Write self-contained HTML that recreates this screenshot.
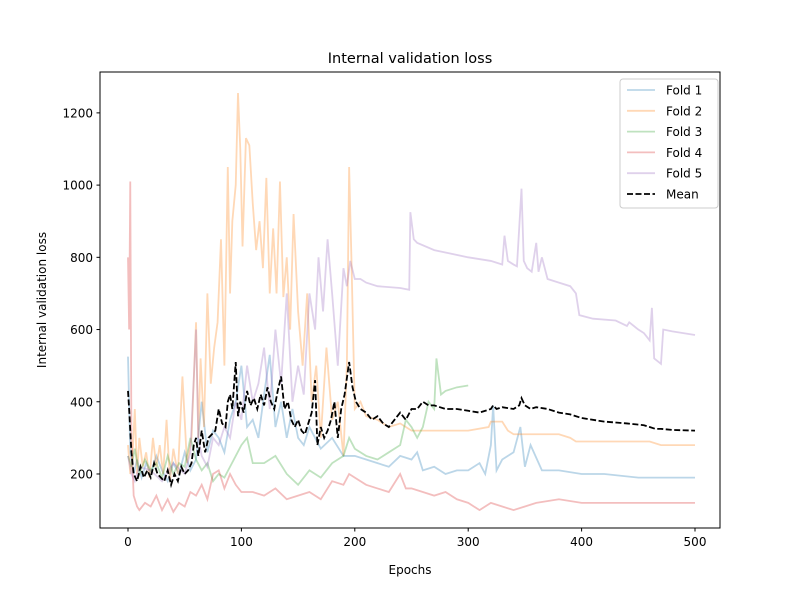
<!DOCTYPE html>
<html><head><meta charset="utf-8"><style>
body{margin:0;background:#fff;font-family:"Liberation Sans","DejaVu Sans",sans-serif;}
svg text{font-family:"DejaVu Sans","Liberation Sans",sans-serif;fill:#000;}
</style></head><body>
<svg id="chart" width="800" height="600" xmlns="http://www.w3.org/2000/svg">
<rect width="800" height="600" fill="#fff"/>
<text x="410" y="63" font-size="14.5" text-anchor="middle">Internal validation loss</text>
<g id="plot"></g>
<g id="axes"></g>
<rect x="100" y="72" width="620" height="456" fill="none" stroke="#000" stroke-width="1"/>
<text x="410" y="574" font-size="12" text-anchor="middle">Epochs</text>
<text transform="translate(46,300) rotate(-90)" font-size="12" text-anchor="middle">Internal validation loss</text>
<g id="legend"></g>
</svg>
<script>
const xTicks=[0,100,200,300,400,500];
const yTicks=[200,400,600,800,1000,1200];
const seriesNames=["Fold 1","Fold 2","Fold 3","Fold 4","Fold 5","Mean"];
const f1x=[0,2,5,8,12,16,20,25,30,35,40,45,50,55,60,65,70,75,80,85,90,95,100,105,110,115,120,125,130,135,140,145,150,155,160,170,180,190,200,210,220,230,240,250,255,260,270,280,290,300,310,315,320,322,325,330,340,346,350,355,365,380,400,420,450,480,500];
const f1y=[525,260,200,240,190,230,200,250,210,180,230,200,260,210,240,400,260,320,300,260,350,400,500,330,350,300,420,530,330,400,300,380,300,280,330,270,300,250,250,240,230,220,250,240,260,210,220,200,210,210,230,200,280,390,210,240,260,330,220,280,210,210,200,200,190,190,190];
const f2x=[0,2,4,6,8,10,13,16,19,22,25,28,31,34,37,40,44,48,52,56,60,62,64,67,70,73,76,79,82,85,88,90,92,95,97,99,101,104,107,110,113,116,119,122,125,128,131,134,137,140,143,146,150,154,158,162,166,170,175,180,185,190,193,195,197,200,205,210,220,230,240,250,260,280,300,318,320,330,335,340,360,380,390,395,420,440,450,460,470,480,500];
const f2y=[280,200,250,380,200,300,220,260,190,300,220,280,200,350,180,270,200,470,230,300,620,300,520,330,700,450,550,620,850,500,1050,700,900,1000,1255,1100,830,1130,1110,950,820,900,770,1020,700,880,700,1010,690,800,600,920,650,500,700,400,500,300,550,350,400,250,500,1050,800,380,400,360,350,330,340,320,320,320,320,330,345,345,320,310,310,310,300,290,290,290,290,290,280,280,280];
const f3x=[0,3,6,10,15,20,25,30,35,40,45,50,55,60,65,70,75,80,85,90,95,100,105,110,120,130,140,150,160,170,180,190,195,200,210,220,230,240,245,250,255,260,265,270,272,276,280,290,300];
const f3y=[250,220,270,200,240,210,230,190,250,200,230,220,300,240,210,230,180,200,190,220,250,280,300,230,230,250,200,170,210,190,230,250,300,270,250,240,260,280,350,330,300,330,400,380,520,420,430,440,445];
const f4x=[0,1,2,3,5,8,10,15,20,25,30,35,40,45,50,55,60,65,70,75,80,85,90,95,100,110,120,130,140,150,160,170,180,190,195,200,210,220,230,240,245,250,260,270,280,290,300,305,310,320,330,340,350,360,380,400,420,450,480,500];
const f4y=[800,600,1010,300,140,110,100,120,110,140,100,130,95,120,110,150,140,170,130,200,210,160,200,170,150,150,140,160,130,140,150,130,180,170,200,190,170,160,150,200,160,160,150,140,150,130,120,110,100,120,110,100,110,120,130,120,120,120,120,120];
const f5x=[0,3,6,10,20,30,40,50,55,60,62,65,70,75,80,85,90,95,100,105,110,115,120,125,130,135,140,145,150,155,160,165,168,172,176,180,185,190,193,196,200,205,210,220,240,248,249,252,255,270,300,320,330,332,335,340,343,347,349,352,356,360,362,365,370,380,390,395,398,410,430,440,442,450,455,460,462,464,470,472,480,500];
const f5y=[250,200,180,220,210,180,230,200,260,600,300,250,220,300,280,330,300,400,350,500,400,450,550,380,600,450,700,400,500,420,700,600,800,650,850,700,500,770,720,790,740,740,730,720,715,710,925,850,840,820,800,790,780,860,790,780,775,990,790,770,760,840,760,800,740,730,720,700,640,630,625,610,620,600,590,570,660,520,505,600,595,585];
const mx=[0,1,3,5,8,11,14,17,20,23,26,29,32,35,38,41,44,47,50,53,56,58,60,62,65,68,71,74,77,80,83,86,88,90,92,95,97,99,102,105,108,111,114,117,120,123,126,129,132,135,138,141,144,147,150,153,156,159,162,165,167,170,173,176,179,182,185,188,191,195,198,201,205,210,215,220,225,230,235,240,245,250,255,260,265,270,280,290,300,310,320,322,325,330,340,345,347,350,355,360,370,380,390,400,420,440,455,460,465,470,480,500];
const my=[430,380,260,200,180,220,190,210,190,230,200,190,180,210,170,200,180,220,200,210,230,280,300,250,320,260,300,310,320,380,340,330,400,420,380,510,360,400,370,430,390,410,380,420,390,440,400,380,430,470,380,400,350,330,350,320,310,340,370,460,280,330,300,320,350,400,300,380,420,510,440,400,380,370,350,360,340,330,350,370,350,380,380,400,390,390,380,380,375,370,380,390,380,385,380,390,410,390,380,385,380,370,365,355,345,340,335,330,325,325,322,320];
const X=v=>128+v*1.134, Y=v=>546.2-v*0.3611;
const NS="http://www.w3.org/2000/svg";
const plot=document.getElementById('plot'),axes=document.getElementById('axes'),leg=document.getElementById('legend');
function mk(t,a,p){const e=document.createElementNS(NS,t);for(const k in a)e.setAttribute(k,a[k]);p.appendChild(e);return e;}
const series=[[f1x,f1y,'#1f77b4','fold-1-line'],[f2x,f2y,'#ff7f0e','fold-2-line'],[f3x,f3y,'#2ca02c','fold-3-line'],[f4x,f4y,'#d62728','fold-4-line'],[f5x,f5y,'#9467bd','fold-5-line']];
series.forEach(s=>{
 const p=mk('polyline',{points:s[0].map((x,i)=>X(x)+','+Y(s[1][i])).join(' '),fill:'none',stroke:s[2],'stroke-opacity':0.3,'stroke-width':1.8},plot);
 
 
});
const mp=mk('polyline',{points:mx.map((x,i)=>X(x)+','+Y(my[i])).join(' '),fill:'none',stroke:'#000','stroke-width':1.8,'stroke-dasharray':'6,2.5'},plot);


xTicks.forEach(t=>{
 const g=mk('g',{},axes);
 
 
 mk('line',{x1:X(t),x2:X(t),y1:528,y2:531.5,stroke:'#000'},g);
 const tx=mk('text',{x:X(t),y:546,'font-size':12,'text-anchor':'middle'},g);tx.textContent=t;
});
yTicks.forEach(t=>{
 const g=mk('g',{},axes);
 
 
 mk('line',{x1:96.5,x2:100,y1:Y(t),y2:Y(t),stroke:'#000'},g);
 const tx=mk('text',{x:93,y:Y(t)+4.5,'font-size':12,'text-anchor':'end'},g);tx.textContent=t;
});
mk('rect',{x:620,y:79,width:98,height:129,rx:3,fill:'#fff','fill-opacity':0.8,stroke:'#ccc'},leg);
const lc=['#1f77b4','#ff7f0e','#2ca02c','#d62728','#9467bd','#000'];
seriesNames.forEach((n,i)=>{
 const g=mk('g',{},leg);
 
 
 const y=90+i*20.8;
 mk('line',{x1:627,x2:655,y1:y,y2:y,stroke:lc[i],'stroke-opacity':i<5?0.3:1,'stroke-width':1.8,'stroke-dasharray':i==5?'6,2.5':'none'},g);
 const t=mk('text',{x:666,y:y+4.5,'font-size':12},g);t.textContent=n;
});
</script>
</body></html>
